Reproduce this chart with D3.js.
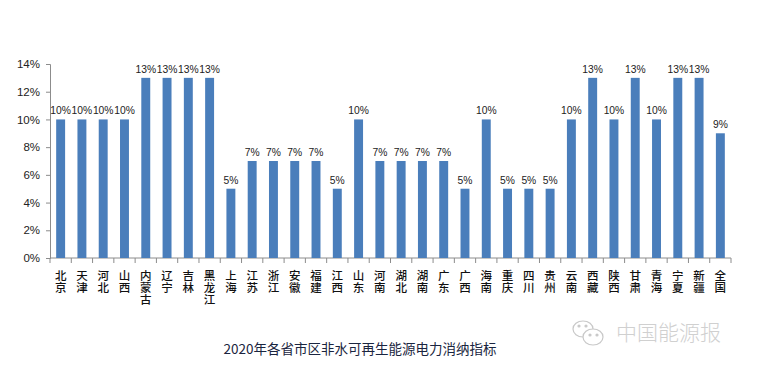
<!DOCTYPE html>
<html><head><meta charset="utf-8">
<script src="https://cdn.jsdelivr.net/npm/d3@7"></script>
<style>body{margin:0;background:#fff}svg{display:block}</style>
</head><body>
<script>
const categories = ["北京","天津","河北","山西","内蒙古","辽宁","吉林","黑龙江","上海","江苏","浙江","安徽","福建","江西","山东","河南","湖北","湖南","广东","广西","海南","重庆","四川","贵州","云南","西藏","陕西","甘肃","青海","宁夏","新疆","全国"];
const values = [10,10,10,10,13,13,13,13,5,7,7,7,7,5,10,7,7,7,7,5,10,5,5,5,10,13,10,13,10,13,13,9];
const yTicks = [0,2,4,6,8,10,12,14];
const title = "2020年各省市区非水可再生能源电力消纳指标";
const watermark = "中国能源报";

const W = 762, H = 370;
const svg = d3.select("body").append("svg").attr("width", W).attr("height", H);
const x = d3.scaleBand().domain(categories).range([50, 731]).paddingInner(0.58).paddingOuter(0.29);
const y = d3.scaleLinear().domain([0, 14]).range([258, 64]);
const font = "'Liberation Sans','DejaVu Sans',Arial,sans-serif";
const cjk = "'Noto Sans CJK SC','Noto Sans',sans-serif";

// y axis
const yAxis = svg.append("g").attr("transform", "translate(50,0)")
  .call(d3.axisLeft(y).tickValues(yTicks).tickSize(4).tickPadding(6).tickFormat(d => d + "%"));
yAxis.selectAll("path,line").attr("stroke", "#8c8c8c");
yAxis.selectAll("text").attr("font-family", font).attr("font-size", 11.5).attr("fill", "#222");

// x axis baseline and ticks between categories
const g = svg.append("g");
g.append("line").attr("x1", 50).attr("x2", 731).attr("y1", y(0)).attr("y2", y(0)).attr("stroke", "#8c8c8c");
d3.range(categories.length + 1).forEach(i => {
  const xx = 50 + i * x.step();
  g.append("line").attr("x1", xx).attr("x2", xx).attr("y1", y(0)).attr("y2", y(0) + 5).attr("stroke", "#8c8c8c");
});

// bars
svg.append("g").selectAll("rect").data(values).join("rect")
  .attr("x", (d, i) => x(categories[i]))
  .attr("width", x.bandwidth())
  .attr("y", d => y(d))
  .attr("height", d => y(0) - y(d))
  .attr("fill", "#4a7ebb");

// value labels
svg.append("g").selectAll("text").data(values).join("text")
  .attr("x", (d, i) => x(categories[i]) + x.bandwidth() / 2)
  .attr("y", d => y(d) - 5)
  .attr("text-anchor", "middle")
  .attr("font-family", font).attr("font-size", 10.3).attr("fill", "#222")
  .text(d => d + "%");

// x category labels (vertical)
svg.append("g").selectAll("text").data(categories).join("text")
  .attr("x", c => x(c) + x.bandwidth() / 2)
  .attr("y", 270)
  .attr("writing-mode", "vertical-rl")
  .style("text-orientation", "upright")
  .style("letter-spacing", "0.5px")
  .attr("font-family", cjk).attr("font-size", 11.5).attr("font-weight", 500).attr("fill", "#111")
  .text(c => c);

// title
svg.append("text").attr("x", 360).attr("y", 354).attr("text-anchor", "middle")
  .attr("font-family", cjk).attr("font-size", 13.5).attr("fill", "#1a2540").text(title);

// watermark
const wm = svg.append("g").attr("fill", "none").attr("stroke", "#c8c8c8").attr("stroke-width", 1.2);
wm.append("ellipse").attr("cx", 583).attr("cy", 329).attr("rx", 10).attr("ry", 8);
wm.append("ellipse").attr("cx", 593).attr("cy", 337).attr("rx", 10).attr("ry", 8).attr("fill", "#fff");
wm.append("circle").attr("cx", 579).attr("cy", 326).attr("r", 1).attr("fill", "#c8c8c8");
wm.append("circle").attr("cx", 586).attr("cy", 326).attr("r", 1).attr("fill", "#c8c8c8");
wm.append("circle").attr("cx", 590).attr("cy", 335).attr("r", 1).attr("fill", "#c8c8c8");
wm.append("circle").attr("cx", 597).attr("cy", 335).attr("r", 1).attr("fill", "#c8c8c8");
svg.append("text").attr("x", 616).attr("y", 340)
  .attr("font-family", cjk).attr("font-size", 21).attr("font-weight", 300).attr("fill", "#d0d0d0").text(watermark);
</script>
</body></html>
